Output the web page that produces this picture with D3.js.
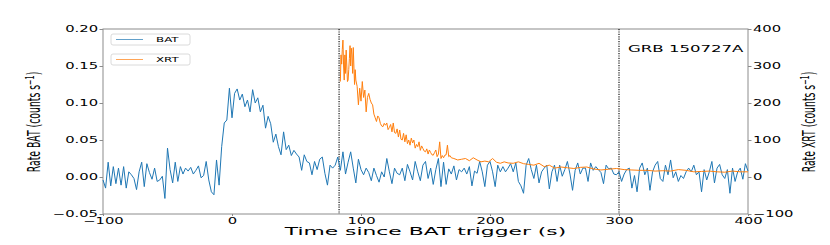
<!DOCTYPE html>
<html lang="en">
<head>
<meta charset="UTF-8">
<title>GRB 150727A light curve</title>
<script src="https://d3js.org/d3.v7.min.js"></script>
<style>
  body { margin: 0; background: #fff; }
  svg text { font-family: "DejaVu Sans", sans-serif; fill: #000; }
</style>
</head>
<body>
<div id="chart"></div>
<script>
// BAT rate, 2 s bins starting at -100 s (counts/s)
const batStart = -100, batBin = 2;
const batRate = [
  -0.004, -0.015, 0.020, -0.012, 0.014, -0.009, 0.012, -0.011, 0.014, -0.015,
  0.007, 0.003, -0.002, -0.017, 0.007, 0.020, -0.013, 0.018, 0.006, -0.003,
  0.012, -0.006, -0.004, 0.001, -0.029, 0.039, 0.010, -0.008, 0.020, -0.006,
  0.014, 0.004, 0.012, 0.008, 0.013, 0.004, 0.009, 0.015, -0.001, 0.002,
  0.021, -0.004, -0.020, -0.024, 0.023, -0.011, 0.041, 0.073, 0.077, 0.120,
  0.080, 0.113, 0.119, 0.104, 0.112, 0.095, 0.104, 0.088, 0.118, 0.100,
  0.107, 0.088, 0.097, 0.066, 0.082, 0.072, 0.047, 0.058, 0.041, 0.030,
  0.061, 0.037, 0.043, 0.029, 0.036, 0.031, 0.027, 0.009, 0.030, 0.021,
  0.019, 0.003, 0.021, 0.010, 0.024, 0.027, 0.005, -0.011, 0.016, 0.012,
  0.016, 0.027, 0.009, 0.034, 0.004, 0.020, 0.034, 0.012, -0.008, 0.024,
  0.010, 0.003, 0.012, 0.006, -0.005, 0.012, 0.002, -0.007, 0.007, 0.000,
  0.025, 0.007, -0.009, 0.012, 0.005, 0.003, 0.012, -0.005, 0.017, 0.007,
  -0.004, 0.021, 0.007, -0.005, 0.016, 0.021, -0.002, 0.012, -0.010, 0.010,
  0.025, -0.013, 0.020, -0.010, 0.011, 0.004, 0.015, -0.004, 0.010, 0.007,
  0.012, 0.004, 0.014, -0.012, 0.008, 0.005, 0.021, 0.007, -0.013, 0.016,
  0.021, 0.007, -0.013, 0.016, 0.007, 0.014, 0.007, 0.012, 0.018, 0.007,
  0.019, -0.006, -0.012, -0.022, 0.016, 0.025, 0.010, -0.002, 0.016, -0.008,
  0.007, 0.012, 0.016, -0.016, 0.007, 0.016, -0.006, 0.016, 0.001, 0.010,
  0.021, 0.004, -0.018, 0.009, 0.019, 0.004, 0.012, 0.012, -0.006, 0.019,
  0.009, 0.014, 0.010, 0.006, -0.009, 0.016, 0.011, 0.012, 0.004, 0.003,
  0.007, -0.006, 0.004, 0.010, 0.012, -0.015, 0.002, -0.020, 0.012, 0.019,
  0.003, 0.012, -0.018, 0.007, 0.016, 0.021, -0.002, -0.006, 0.016, 0.003,
  0.023, -0.001, 0.007, -0.006, 0.002, -0.002, 0.007, 0.012, 0.007, 0.016,
  0.003, 0.007, -0.020, 0.010, -0.004, 0.007, 0.021, -0.008, 0.012, 0.017,
  0.003, -0.002, 0.010, -0.022, 0.012, -0.006, 0.007, 0.012, -0.003, 0.018,
  0.008
];

// XRT light curve (time in s, rate in counts/s)
const xrtTime = [
  84, 84.5, 85, 85.5, 86, 86.5, 87, 87.5, 88, 88.5, 89, 89.5, 90, 90.5, 91, 91.5,
  92, 92.5, 93, 93.5, 94, 94.5, 95, 95.5, 96, 97, 98, 99, 100, 101, 102, 103,
  104, 105, 106, 107, 108, 109, 110, 111, 112, 113, 114, 115, 116, 117, 118, 119,
  120, 121, 122, 123, 124, 125, 126, 127, 128, 129, 130, 131, 132, 133, 134, 135,
  136, 137, 138, 139, 140, 141, 142, 143, 144, 145, 146, 147, 148, 149, 150, 151,
  152, 153, 154, 155, 156, 157, 158, 159, 160, 161, 162, 163, 164, 165, 166, 167,
  168, 169, 170, 172, 175, 178, 181, 184, 187, 190, 193, 196, 199, 202, 205, 208,
  211, 214, 218, 222, 226, 230, 234, 238, 242, 246, 250, 255, 260, 265, 270, 275,
  280, 286, 292, 298, 304, 310, 316, 322, 328, 334, 340, 346, 352, 358, 364, 370,
  376, 382, 388, 394, 400
];
const xrtRate = [
  258, 330, 305, 345, 370, 300, 262, 330, 280, 343, 300, 258, 262, 290, 320, 355,
  300, 348, 330, 280, 350, 300, 250, 290, 262, 245, 195, 240, 205, 258, 215, 235,
  176, 215, 226, 210, 200, 195, 170, 160, 150, 165, 160, 145, 138, 136, 145, 140,
  146, 128, 134, 142, 122, 146, 120, 118, 130, 108, 127, 102, 100, 118, 95, 114,
  90, 100, 86, 105, 92, 100, 78, 88, 82, 95, 72, 84, 77, 70, 68, 76,
  62, 73, 66, 60, 59, 66, 73, 55, 62, 95, 50, 58, 52, 59, 60, 86,
  55, 58, 52, 50, 46, 48, 50, 44, 52, 46, 41, 43, 41, 50, 40, 37,
  41, 38, 37, 41, 36, 34, 32, 37, 28, 32, 24, 27, 25, 23, 26, 27,
  22, 19, 21, 23, 20, 19, 18, 18, 16, 17, 16, 20, 18, 14, 15, 16,
  14, 13, 16, 14, 14
];

const xTicks = [-100, 0, 100, 200, 300, 400];
const batTicks = [-0.05, 0, 0.05, 0.10, 0.15, 0.20];
const xrtTicks = [-100, 0, 100, 200, 300, 400];
const markerTimes = [83, 300];
const legendItems = [
  { label: "BAT", color: "#1f77b4" },
  { label: "XRT", color: "#ff7f0e" }
];

const width = 830, height = 245;
const plot = { left: 103, right: 748, top: 29, bottom: 214 };
const sx = 1.8;        // the picture is stretched sideways, so is its text
const spineColor = "#8c8c8c";

const svg = d3.select("#chart").append("svg")
  .attr("width", width)
  .attr("height", height);

const x = d3.scaleLinear().domain([-100, 400]).range([plot.left, plot.right]);
const yBat = d3.scaleLinear().domain([-0.05, 0.20]).range([plot.bottom, plot.top]);
const yXrt = d3.scaleLinear().domain([-100, 400]).range([plot.bottom, plot.top]);

const minus = s => s.replace("-", "\u2212");

// squash tick labels to match the stretched look
function stretchTicks(g, fontSize) {
  g.selectAll(".tick text")
    .attr("font-size", fontSize)
    .attr("font-family", "DejaVu Sans")
    .attr("fill", "#000")
    .each(function() {
      const t = d3.select(this);
      t.attr("x", (+t.attr("x") || 0) / sx)
        .attr("transform", `scale(${sx},1)`);
    });
  g.selectAll(".tick line").attr("stroke", spineColor);
  g.select(".domain").remove();
}

// axes
const gx = svg.append("g")
  .attr("transform", `translate(0,${plot.bottom})`)
  .call(d3.axisBottom(x).tickValues(xTicks).tickSize(2).tickPadding(2)
    .tickFormat(d => minus(d3.format("d")(d))));
stretchTicks(gx, 8.2);

const gl = svg.append("g")
  .attr("transform", `translate(${plot.left},0)`)
  .call(d3.axisLeft(yBat).tickValues(batTicks).tickSize(3.5).tickPadding(1.5)
    .tickFormat(d => minus(d3.format(".2f")(d))));
stretchTicks(gl, 8.2);

const gr = svg.append("g")
  .attr("transform", `translate(${plot.right},0)`)
  .call(d3.axisRight(yXrt).tickValues(xrtTicks).tickSize(3.5).tickPadding(1.5)
    .tickFormat(d => minus(d3.format("d")(d))));
stretchTicks(gr, 8.2);

// frame
svg.append("rect")
  .attr("x", plot.left).attr("y", plot.top)
  .attr("width", plot.right - plot.left)
  .attr("height", plot.bottom - plot.top)
  .attr("fill", "none")
  .attr("stroke", spineColor)
  .attr("stroke-width", 1);

// dotted markers
svg.selectAll(".marker")
  .data(markerTimes)
  .enter().append("line")
  .attr("class", "marker")
  .attr("x1", d => x(d)).attr("x2", d => x(d))
  .attr("y1", plot.top).attr("y2", plot.bottom)
  .attr("stroke", "#000")
  .attr("stroke-width", 1.1)
  .attr("stroke-dasharray", "1.2,1.2");

// BAT curve
const batData = batRate.map((v, i) => ({ t: batStart + i * batBin, v: v }));
svg.append("path")
  .datum(batData)
  .attr("fill", "none")
  .attr("stroke", legendItems[0].color)
  .attr("stroke-width", 1)
  .attr("d", d3.line().x(d => x(d.t)).y(d => yBat(d.v)));

// XRT curve
const xrtData = xrtTime.map((t, i) => ({ t: t, v: xrtRate[i] }));
svg.append("path")
  .datum(xrtData)
  .attr("fill", "none")
  .attr("stroke", legendItems[1].color)
  .attr("stroke-width", 1)
  .attr("d", d3.line().x(d => x(d.t)).y(d => yXrt(d.v)));

// two separate legend boxes, one per series
const legendTop = [34, 54];
legendItems.forEach((item, i) => {
  const g = svg.append("g").attr("transform", `translate(111,${legendTop[i]})`);
  g.append("rect")
    .attr("width", 79).attr("height", 11).attr("rx", 2)
    .attr("fill", "#fff").attr("fill-opacity", 0.8)
    .attr("stroke", "#d0d0d0").attr("stroke-width", 0.8);
  g.append("line")
    .attr("x1", 5).attr("x2", 32).attr("y1", 5.5).attr("y2", 5.5)
    .attr("stroke", item.color).attr("stroke-width", 1).attr("stroke-opacity", 0.7);
  g.append("text")
    .attr("transform", `translate(45,8.2) scale(${sx},1)`)
    .attr("font-size", 6.6)
    .text(item.label);
});

// annotation
svg.append("text")
  .attr("transform", `translate(628,52) scale(${sx},1)`)
  .attr("font-size", 9.2)
  .text("GRB 150727A");

// axis titles
svg.append("text")
  .attr("transform", `translate(${(plot.left + plot.right) / 2},235) scale(1.95,1)`)
  .attr("text-anchor", "middle")
  .attr("font-size", 11.2)
  .text("Time since BAT trigger (s)");

function yTitle(xPos, label) {
  const t = svg.append("text")
    .attr("transform", `translate(${xPos},122) scale(${sx},1) rotate(-90)`)
    .attr("text-anchor", "middle")
    .attr("font-size", 9.3);
  t.append("tspan").text(label + " (counts s");
  t.append("tspan").attr("font-size", 6.5).attr("dy", -3.5).text("\u22121");
  t.append("tspan").attr("dy", 3.5).text(")");
}
yTitle(40, "Rate BAT");
yTitle(815, "Rate XRT");
</script>
</body>
</html>
